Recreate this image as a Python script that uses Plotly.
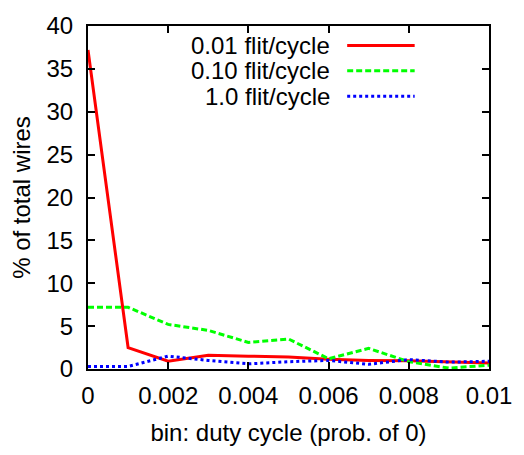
import plotly.graph_objects as go

duty_bins = [0, 0.001, 0.002, 0.003, 0.004, 0.005, 0.006, 0.007, 0.008, 0.009, 0.01]
rate_001 = [37.2, 2.5, 0.9, 1.6, 1.5, 1.4, 1.15, 1.0, 0.95, 0.8, 0.7]
rate_010 = [7.2, 7.2, 5.2, 4.5, 3.1, 3.5, 1.2, 2.4, 0.85, 0.1, 0.45]
rate_100 = [0.3, 0.3, 1.5, 1.0, 0.6, 0.85, 1.0, 0.55, 1.1, 0.8, 0.9]
series_names = ["0.01 flit/cycle", "0.10 flit/cycle", "1.0 flit/cycle"]
x_tickvals = [0, 0.002, 0.004, 0.006, 0.008, 0.01]
x_ticktext = ["0", "0.002", "0.004", "0.006", "0.008", "0.01"]
y_tickvals = [0, 5, 10, 15, 20, 25, 30, 35, 40]

colors = ["#ff0000", "#00ff00", "#0000ff"]
dashes = ["solid", "6px,3px", "dot"]
FONT = "Liberation Sans, Arial, sans-serif"
FS = 24

fig = go.Figure()
for name, ys, c, d in zip(series_names, [rate_001, rate_010, rate_100], colors, dashes):
    fig.add_trace(go.Scatter(x=duty_bins, y=ys, mode="lines", name=name,
                             line=dict(color=c, width=3, dash=d),
                             showlegend=False))

# gnuplot-style legend: text right-aligned, sample line on the right
L, R, T, B = 88, 498, 17, 369
W, H = 524, 455
pw, ph = R - L, B - T
rows_y = [37, 63, 89]
for name, c, d, yy in zip(series_names, colors, dashes, rows_y):
    yp = 1 - (yy - T) / ph
    fig.add_annotation(xref="paper", yref="paper", x=(337 - L) / pw, y=yp,
                       text=name, showarrow=False, xanchor="right", yanchor="middle",
                       font=dict(family=FONT, size=FS, color="black"))
    fig.add_shape(type="line", xref="paper", yref="paper",
                  x0=(353 - L) / pw, x1=(422 - L) / pw, y0=yp, y1=yp,
                  line=dict(color=c, width=3, dash=d))

axis_common = dict(showline=True, linecolor="black", linewidth=2, mirror="ticks",
                   ticks="inside", ticklen=7, tickwidth=1.5, tickcolor="black",
                   showgrid=False, zeroline=False,
                   tickfont=dict(family=FONT, size=FS, color="black"))

fig.update_xaxes(range=[0, 0.01], tickvals=x_tickvals, ticktext=x_ticktext,
                 ticklabelstandoff=4,
                 title=dict(text="bin: duty cycle (prob. of 0)", standoff=16,
                            font=dict(family=FONT, size=FS, color="black")),
                 **axis_common)
fig.update_yaxes(range=[0, 40], tickvals=y_tickvals, ticklabelstandoff=8,
                 title=dict(text="% of total wires", standoff=9,
                            font=dict(family=FONT, size=FS, color="black")),
                 **axis_common)

fig.update_layout(width=W, height=H, margin=dict(l=L, r=W - R, t=T, b=H - B),
                  plot_bgcolor="white", paper_bgcolor="white")
fig.write_html("out.html")
